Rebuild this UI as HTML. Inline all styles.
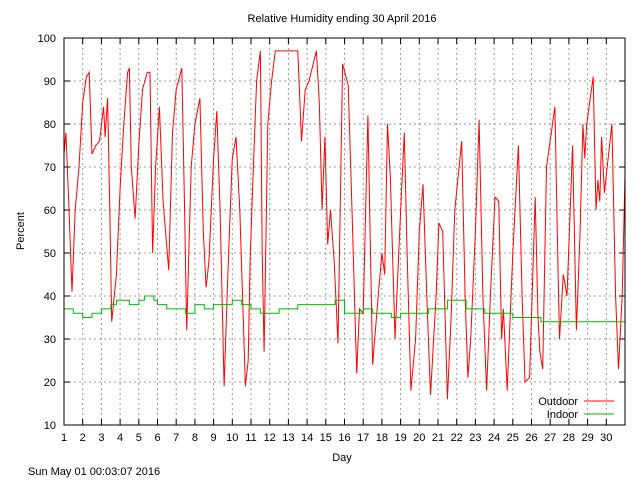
<!DOCTYPE html>
<html><head><meta charset="utf-8"><style>
body{margin:0;background:#fff;}
svg{display:block;font-family:"Liberation Sans",sans-serif;font-size:11px;}
</style></head><body>
<svg id="chart" width="640" height="480" xmlns="http://www.w3.org/2000/svg">
<rect width="640" height="480" fill="#fff"/>
<text x="342" y="22" text-anchor="middle">Relative Humidity ending 30 April 2016</text>
<text x="342" y="461" text-anchor="middle">Day</text>
<text x="24" y="231" text-anchor="middle" transform="rotate(-90 24 231)">Percent</text>
<text x="28" y="475">Sun May 01 00:03:07 2016</text>
<g id="grid"></g><g id="axes"></g>
<g id="series"></g>
<g>
<text x="578" y="405" text-anchor="end">Outdoor</text>
<line x1="584" y1="401" x2="614" y2="401" stroke="#f00" stroke-width="1"/>
<text x="578" y="418" text-anchor="end">Indoor</text>
<line x1="584" y1="414" x2="614" y2="414" stroke="#0b0" stroke-width="1"/>
</g>
<rect x="64" y="38" width="561" height="387" fill="none" stroke="#000" stroke-width="1"/>
</svg>
<script>
const xTicks=[1,2,3,4,5,6,7,8,9,10,11,12,13,14,15,16,17,18,19,20,21,22,23,24,25,26,27,28,29,30];
const yTicks=[10,20,30,40,50,60,70,80,90,100];
const outdoorDays=[1,1.1,1.25,1.43,1.6,1.8,2,2.2,2.35,2.5,2.7,2.9,3.12,3.2,3.33,3.45,3.55,3.8,4,4.2,4.4,4.5,4.6,4.8,5,5.2,5.45,5.6,5.74,5.9,6.1,6.3,6.6,6.8,7,7.3,7.45,7.56,7.8,8,8.27,8.45,8.6,8.75,9,9.17,9.35,9.56,9.8,10,10.2,10.4,10.7,10.85,10.95,11.1,11.3,11.5,11.6,11.7,11.9,12.1,12.3,12.6,13,13.5,13.7,13.9,14.1,14.5,14.65,14.8,14.95,15.1,15.25,15.45,15.65,15.9,16.2,16.4,16.65,16.8,17,17.25,17.5,17.8,18,18.15,18.3,18.45,18.7,18.95,19.2,19.35,19.55,19.8,20,20.2,20.4,20.6,20.9,21.05,21.25,21.5,21.7,21.9,22.27,22.45,22.6,22.75,23,23.2,23.4,23.6,23.8,24.05,24.25,24.4,24.5,24.7,25,25.3,25.5,25.65,25.9,26.2,26.35,26.45,26.6,26.8,27.25,27.4,27.5,27.7,27.9,28.2,28.4,28.6,28.75,28.85,28.95,29.3,29.45,29.55,29.65,29.75,29.9,30.05,30.3,30.5,30.65,30.85,31];
const outdoorValues=[73,78,62,41,60,70,85,91,92,73,75,76,84,77,86,60,34,45,65,80,92,93,70,58,75,88,92,92,50,70,84,62,46,78,88,93,60,32,70,80,86,55,42,48,72,83,60,19,50,72,77,60,19,25,48,67,90,97,50,27,80,90,97,97,97,97,76,88,90,97,85,60,77,52,60,48,29,94,89,60,22,37,36,82,24,40,50,45,80,68,30,55,78,50,18,30,55,66,40,17,40,57,55,16,35,60,76,40,21,30,55,81,40,18,40,63,62,30,37,18,50,75,40,20,21,63,35,27,23,70,84,50,30,45,40,75,32,55,80,72,80,91,60,67,62,77,64,70,80,40,23,40,68];
const indoorDays=[1,1.5,2,2.5,3,3.5,3.8,4.2,4.5,5,5.3,5.8,6,6.5,7,7.5,8,8.5,9,9.5,10,10.5,11,11.5,12,12.5,13,13.5,14,14.5,15,15.5,16,16.5,17,17.5,18,18.5,19,19.5,20,20.5,21,21.5,22,22.5,23,23.5,24,24.5,25,25.5,26,26.5,27,27.5,28,29,30,31];
const indoorValues=[37,36,35,36,37,38,39,39,38,39,40,39,38,37,37,36,38,37,38,38,39,38,37,36,36,37,37,38,38,38,38,39,36,36,37,36,36,35,36,36,36,37,37,39,39,37,37,36,36,36,35,35,35,34,34,34,34,34,34,34];
const X0=64,X1=625,Y0=425,Y1=38;
const xs=d=>X0+(d-1)*(X1-X0)/30;
const ys=v=>Y0-(v-10)*(Y0-Y1)/90;
const NS="http://www.w3.org/2000/svg";
const grid=document.getElementById('grid'),axes=document.getElementById('axes'),series=document.getElementById('series');
function mk(tag,attrs,parent){const e=document.createElementNS(NS,tag);for(const k in attrs)e.setAttribute(k,attrs[k]);parent.appendChild(e);return e;}
yTicks.forEach(v=>{const y=ys(v);
 if(v>10&&v<100){const g=mk('line',{x1:X0,x2:X1,y1:y,y2:y,stroke:'#999','stroke-dasharray':'2,3'},grid);
 
 }
 mk('line',{x1:X0,x2:X0+6,y1:y,y2:y,stroke:'#000'},axes);
 mk('line',{x1:X1,x2:X1-6,y1:y,y2:y,stroke:'#000'},axes);
 const t=mk('text',{x:56,y:y+4,'text-anchor':'end'},axes);t.textContent=v;
 
 
});
xTicks.forEach(d=>{const x=xs(d);
 if(d>1){const g=mk('line',{x1:x,x2:x,y1:Y1,y2:Y0,stroke:'#999','stroke-dasharray':'2,3'},grid);
 
 }
 mk('line',{x1:x,x2:x,y1:Y0,y2:Y0-6,stroke:'#000'},axes);
 mk('line',{x1:x,x2:x,y1:Y1,y2:Y1+6,stroke:'#000'},axes);
 const t=mk('text',{x:x,y:441,'text-anchor':'middle'},axes);t.textContent=d;
 
 
});
let p='';outdoorDays.forEach((d,i)=>{p+=(i?'L':'M')+xs(d).toFixed(1)+','+ys(outdoorValues[i]).toFixed(1);});
const o=mk('path',{d:p,fill:'none',stroke:'#f00','stroke-width':1},series);


let q='';indoorDays.forEach((d,i)=>{const x=xs(d).toFixed(1),y=ys(indoorValues[i]).toFixed(1);q+=i?('H'+x+'V'+y):('M'+x+','+y);});
const n=mk('path',{d:q,fill:'none',stroke:'#0b0','stroke-width':1},series);


</script>
</body></html>
